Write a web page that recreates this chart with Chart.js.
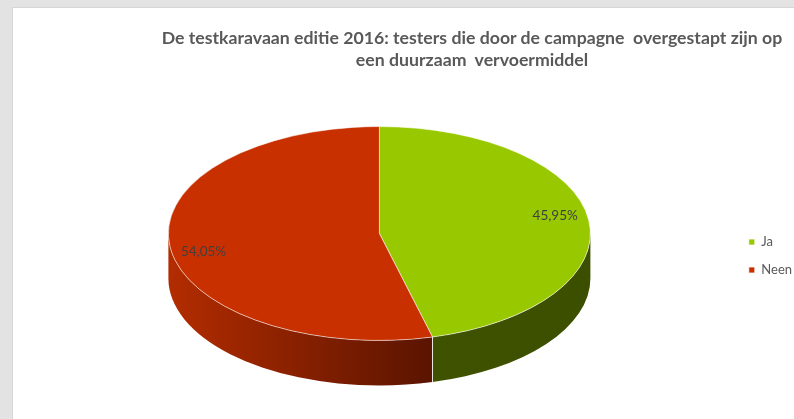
<!DOCTYPE html>
<html>
<head>
<meta charset="utf-8">
<script src="https://cdn.jsdelivr.net/npm/chart.js@4.4.1/dist/chart.umd.min.js"></script>
<style>
  html, body { margin: 0; padding: 0; background: #e3e3e3; overflow: hidden; width: 794px; height: 419px; }
  #card { position: absolute; left: 12px; top: 7px; width: 820px; height: 440px; background: #fff; border: 1px solid #d6d6d6; }
  #title { position: absolute; left: 109px; width: 700px; top: 19px; text-align: center; font: bold 17.7px Lato, sans-serif; color: #595959; line-height: 22px; white-space: pre; }
  #chart { position: absolute; left: 0; top: 0; }
</style>
</head>
<body>
<div id="card">
  <canvas id="chart" width="800" height="420"></canvas>
  <div id="title">De testkaravaan editie 2016: testers die door de campagne  overgestapt zijn op
een duurzaam  vervoermiddel</div>
</div>
<script>
// data
const categories = ["Ja", "Neen"];
const percentages = [45.95, 54.05];

// styles
const topColors = ["#98c900", "#c93000"];
const sideColors = [["#3e5200", "#3c4f00"], ["#b32c00", "#5a1400"]];
const TILT = 0.507;
const DEPTH = 45;

function fmtPct(v) {
    return v.toFixed(2).replace(".", ",") + "%";
}

// =========================
// 3D PIE (tilt + side wall)
// =========================
const pie3d = {
    id: "pie3d",
    beforeDatasetsDraw(chart) {
        const arcs = chart.getDatasetMeta(0).data;
        if (!arcs.length) return;
        const ctx = chart.ctx;
        const { x, y, outerRadius: r } = arcs[0];
        const cy = y - DEPTH / 2;
        const ry = r * TILT;

        ctx.save();
        arcs.forEach((arc, i) => {
            const a0 = Math.max(arc.startAngle, 0);
            const a1 = Math.min(arc.endAngle, Math.PI);
            if (a1 <= a0) return;
            ctx.beginPath();
            ctx.ellipse(x, cy, r, ry, 0, a0, a1);
            ctx.ellipse(x, cy + DEPTH, r, ry, 0, a1, a0, true);
            ctx.closePath();
            const xa = x + Math.cos(a1) * r;
            const xb = x + Math.cos(a0) * r;
            const g = ctx.createLinearGradient(Math.min(xa, xb), 0, Math.max(xa, xb), 0);
            g.addColorStop(0, sideColors[i][0]);
            g.addColorStop(1, sideColors[i][1]);
            ctx.fillStyle = g;
            ctx.fill();
        });
        // edges between walls
        ctx.strokeStyle = "rgba(255,255,255,0.85)";
        ctx.lineWidth = 1;
        arcs.forEach(arc => {
            const a = arc.startAngle;
            if (a > 0 && a < Math.PI) {
                const ex = x + Math.cos(a) * r;
                const ey = cy + Math.sin(a) * ry;
                ctx.beginPath();
                ctx.moveTo(ex, ey);
                ctx.lineTo(ex, ey + DEPTH);
                ctx.stroke();
            }
        });
        ctx.restore();

        // squash top face
        ctx.save();
        ctx.translate(x, cy);
        ctx.scale(1, TILT);
        ctx.translate(-x, -y);
    },
    afterDatasetsDraw(chart) {
        const arcs = chart.getDatasetMeta(0).data;
        if (!arcs.length) return;
        const ctx = chart.ctx;
        ctx.restore();

        const { x, y, outerRadius: r } = arcs[0];
        const cy = y - DEPTH / 2;
        const ry = r * TILT;
        const total = percentages.reduce((a, b) => a + b, 0);
        ctx.save();
        ctx.font = "13.5px Lato, sans-serif";
        ctx.fillStyle = "#404040";
        ctx.textAlign = "center";
        ctx.textBaseline = "middle";
        arcs.forEach((arc, i) => {
            const mid = (arc.startAngle + arc.endAngle) / 2;
            const lx = x + Math.cos(mid) * r * 0.84;
            const ly = cy + Math.sin(mid) * ry * 1.35;
            ctx.fillText(fmtPct(percentages[i] / total * 100), lx, ly);
        });
        ctx.restore();
    }
};

new Chart(document.getElementById("chart"), {
    type: "pie",
    data: {
        labels: categories,
        datasets: [{
            data: percentages,
            backgroundColor: topColors,
            borderColor: "rgba(255,255,255,0.75)",
            borderWidth: 1,
            radius: 211,
            clip: false
        }]
    },
    options: {
        responsive: false,
        animation: false,
        events: [],
        layout: { padding: { left: 12, right: 11, top: 101, bottom: 25 } },
        plugins: {
            title: { display: false },
            tooltip: { enabled: false },
            legend: {
                position: "right",
                labels: {
                    boxWidth: 6,
                    boxHeight: 6,
                    padding: 15,
                    color: "#595959",
                    font: { family: "Lato", size: 13 }
                }
            }
        }
    },
    plugins: [pie3d]
});
</script>
</body>
</html>
